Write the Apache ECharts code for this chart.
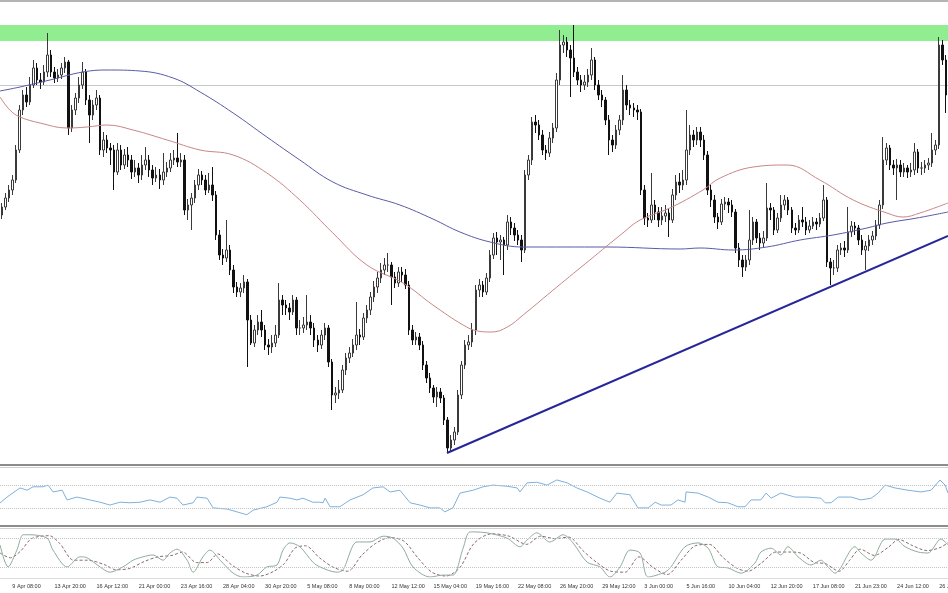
<!DOCTYPE html>
<html><head><meta charset="utf-8">
<script src="https://cdn.jsdelivr.net/npm/echarts@6/dist/echarts.min.js"></script>
<style>html,body{margin:0;padding:0;background:#fff}#c{width:948px;height:593px}</style>
</head><body><div id="c"></div>
<script>
const tickLabels = ["9 Apr 08:00","13 Apr 20:00","16 Apr 12:00","21 Apr 00:00","23 Apr 16:00","28 Apr 04:00","30 Apr 20:00","5 May 08:00","8 May 00:00","12 May 12:00","15 May 04:00","19 May 16:00","22 May 08:00","26 May 20:00","29 May 12:00","3 Jun 00:00","5 Jun 16:00","10 Jun 04:00","12 Jun 20:00","17 Jun 08:00","21 Jun 23:00","24 Jun 12:00","26 Jun 04:00"];

const opens = [
250,258,267,275,285,315,355,370,363,380,
397,385,383,393,410,393,387,390,397,403,
337,355,367,380,393,365,350,360,367,315,
325,317,315,293,315,300,310,305,293,297,
290,300,305,295,287,290,285,293,297,305,
307,303,305,255,260,267,280,290,285,275,
280,270,230,210,207,215,195,178,173,177,
183,145,122,135,143,135,120,118,122,130,
165,160,157,153,165,137,137,140,143,137,
125,120,130,137,103,70,72,75,95,107,
112,120,130,128,147,155,168,178,187,195,
200,200,188,182,193,190,180,135,125,128,
120,100,87,77,68,73,67,45,17,25,
33,70,100,120,123,135,175,180,173,187,
210,227,223,225,220,243,237,230,225,215,
290,305,343,340,330,315,312,327,337,385,
420,423,415,407,393,385,380,383,390,405,
380,370,365,345,325,320,335,345,375,360,
357,355,353,275,247,245,260,253,245,249,
252,245,270,283,280,285,315,330,325,333,
325,310,275,265,248,243,261,263,260,253,
217,205,198,205,225,243,227,222,227,257,
255,235,247,260,265,255,237,235,245,243,
235,239,243,241,247,265,203,197,197,215,
217,215,233,239,237,225,215,219,225,229,
240,260,305,317,300,297,300,293,297,293,
295,313,297,297,300,302,315,320,420,405];

const closes = [
258,267,275,285,315,355,370,363,380,397,
385,383,393,410,393,387,390,397,403,337,
355,367,380,393,365,350,360,367,315,325,
317,315,293,315,300,310,305,293,297,290,
300,305,295,287,290,285,293,297,305,307,
303,305,255,260,267,280,290,285,275,280,
270,230,210,207,215,195,178,173,177,183,
145,122,135,143,135,120,118,122,130,165,
160,157,153,165,137,137,140,143,137,125,
120,130,137,103,70,72,75,95,107,112,
120,130,128,147,155,168,178,187,195,200,
200,188,182,193,190,180,135,125,128,120,
100,87,77,68,73,67,45,17,25,33,
70,100,120,123,135,175,180,173,187,210,
227,223,225,220,243,237,230,225,215,290,
305,343,340,330,315,312,327,337,385,420,
423,415,407,393,385,380,383,390,405,380,
370,365,345,325,320,335,345,375,360,357,
355,353,275,247,245,260,253,245,249,252,
245,270,283,280,285,315,330,325,333,325,
310,275,265,248,243,261,263,260,253,217,
205,198,205,225,243,227,222,227,257,255,
235,247,260,265,255,237,235,245,243,235,
239,243,241,247,265,203,197,197,215,217,
215,233,239,237,225,215,219,225,229,240,
260,305,317,300,297,300,293,297,293,295,
313,297,297,300,302,315,320,420,405,370];

const lows = [
246,255,263,270,282,312,350,358,360,377,
380,376,380,388,388,382,383,386,392,330,
333,350,362,376,360,322,345,355,310,308,
312,300,275,290,295,296,298,286,288,282,
285,295,288,280,283,276,280,288,293,300,
298,298,250,245,235,262,275,280,270,272,
264,225,205,200,203,190,172,168,168,172,
98,120,118,130,128,115,110,112,118,127,
150,150,145,150,130,130,132,135,130,118,
113,116,125,98,55,62,66,72,90,102,
108,115,120,125,142,150,163,172,182,190,
193,160,177,178,183,176,130,120,120,115,
95,82,72,62,58,62,40,12,13,20,
30,66,96,115,118,130,168,168,170,183,
206,210,205,190,215,230,224,220,203,212,
285,300,332,325,310,305,308,322,333,380,
412,408,368,388,380,373,375,378,385,375,
365,358,340,310,313,316,330,340,355,350,
348,345,270,240,238,242,245,238,240,243,
228,242,265,272,275,280,310,318,320,318,
305,270,258,242,236,240,255,252,248,212,
198,188,194,200,220,222,215,218,224,245,
230,232,243,255,250,232,230,232,238,230,
232,236,235,238,244,198,180,190,193,210,
208,212,228,230,220,210,195,214,220,225,
236,256,300,295,290,265,288,288,287,288,
290,292,290,292,295,298,310,316,400,352];

const highs = [
262,272,280,290,320,360,375,378,388,405,
402,392,400,432,415,398,396,402,408,405,
360,372,388,403,396,370,365,375,370,333,
330,322,320,322,320,316,318,310,305,302,
310,318,310,300,298,296,312,303,312,315,
332,312,310,266,272,285,296,294,290,292,
298,274,235,216,245,220,200,183,182,190,
186,150,140,150,155,140,126,130,140,182,
170,165,162,170,168,145,148,170,150,142,
130,135,142,140,106,78,85,100,112,118,
126,163,136,152,160,173,184,193,202,207,
212,203,193,198,198,196,184,140,133,132,
124,104,92,80,78,77,70,48,30,38,
75,104,125,130,142,180,186,184,192,215,
232,233,230,228,250,248,242,235,230,295,
310,348,350,345,335,320,333,342,392,435,
430,428,420,440,398,390,390,396,417,408,
385,375,368,350,330,340,350,390,380,365,
362,360,356,280,252,292,265,258,258,260,
256,276,290,292,295,355,340,335,338,338,
330,314,280,270,252,266,268,267,265,256,
222,210,210,255,248,246,232,234,282,262,
258,252,270,270,268,258,242,250,258,248,
245,248,247,252,280,268,207,205,220,222,
224,258,244,243,240,230,224,230,234,245,
265,328,322,320,305,306,305,302,300,302,
322,316,303,305,307,332,325,428,425,410];

// moving averages [bar position, price]
const maSlow = [[0,374],[5.7,378],[14.2,385],[23.6,393],[30.5,395],[39.9,394],[49.3,387],[57,373],[66.4,352],[76,328],[85.4,305],[94.8,283],[104.5,270],[113.9,260],[123.3,246],[131,233],[139.6,223],[149,218],[172.9,218],[193.7,216],[199.4,217],[208.8,215],[218.4,218],[227.9,225],[237.3,230],[246.9,237],[252.6,242],[261.2,247],[270,253]];
const maFast = [[0,368],[2.8,355],[5.7,348],[11.4,342],[19.1,337],[24.8,338],[30.5,340],[37.9,335],[47.6,325],[57,315],[66.4,310],[76,292],[85.4,265],[94.8,232],[104.5,200],[114.8,182],[123.3,160],[131.9,140],[136,134],[140,133],[144.5,138],[149,150],[158.6,178],[168,205],[177.4,232],[182.3,245],[190.8,257],[200.2,275],[205.1,287],[214.5,298],[224.2,300],[233.5,285],[243,265],[252.6,252],[257.2,248],[262,252],[270,262]];
const trendLine = [[127.3,12],[270,229]];
const resistanceZone = [424,440];
const hLevel = 380;

const rsi = [[0,38.6],[2,49],[5.7,65],[7.7,61],[9.4,67],[12.2,67],[13.7,70],[15.1,58],[17.7,61],[19.1,44],[21.9,49],[25.6,44],[28.5,40],[31.3,35],[34.2,40],[37,39],[39.9,40],[42.7,44],[45.6,40],[48.4,49],[50.4,47],[52.1,35],[55,39],[56.1,49],[59,47],[60.7,30],[64.7,28],[67.5,23],[70.3,18],[72.1,26],[76,32],[78.9,40],[79.7,49],[82.6,47],[84.6,44],[86.3,47],[89.1,40],[91.1,40],[92,39],[92.6,47],[94,32],[96.8,32],[99.7,44],[103.4,53],[106.2,65],[109.1,67],[111.1,58],[113.9,61],[116.8,39],[119.6,35],[122.5,30],[125.3,30],[126.7,23],[129,30],[131,56],[134.7,61],[137.6,67],[140.4,70],[144.4,68],[147.3,65],[148.1,58],[150.1,74],[152.9,75],[155.8,70],[158.6,79],[161.5,74],[164.3,65],[167.2,58],[170.9,47],[173.7,40],[175.7,56],[179.4,53],[181.7,30],[184.6,30],[186.6,40],[188.3,35],[191.1,35],[193.1,44],[195.1,40],[195.4,58],[198.8,56],[201.7,49],[204.5,40],[207.3,39],[210.2,32],[212.2,32],[213.9,44],[216.7,44],[218.2,56],[219.6,47],[222.4,56],[226.4,49],[230.1,49],[233.8,47],[235,39],[236.7,39],[238.7,49],[242.4,49],[245.2,44],[248.1,47],[250.1,56],[252.1,70],[254.9,65],[258.6,61],[262.3,58],[265.2,61],[267.7,79],[269.2,70],[270,56]];
const rsiLevels = [70,30];

const stochMain = [[0,67],[2.3,21],[4.8,56],[6.6,88],[8.5,88],[13.4,81],[15.1,56],[19.1,21],[22.8,42],[24.8,40],[28.5,21],[31.3,10],[35,21],[37.9,35],[40.7,42],[43.6,46],[46.4,35],[48.4,50],[50.4,58],[53.3,35],[55,10],[57.8,42],[59.8,56],[62.7,35],[66.4,8],[69.2,0],[73.2,4],[76,21],[78.9,25],[80.6,56],[82.6,71],[85.4,63],[89.1,31],[91.1,21],[96,10],[97.7,15],[101.7,73],[105.4,73],[109.1,85],[111.9,81],[114.8,60],[117.6,21],[122.5,0],[126.2,4],[129,4],[131.9,60],[133.9,94],[138.7,92],[144.4,81],[148.1,63],[150.1,77],[152.9,92],[156.6,73],[160.4,88],[163.2,71],[167.2,31],[170.9,21],[173.7,0],[176.6,21],[179.4,56],[182.3,50],[184.6,0],[189.4,10],[191.1,21],[195.1,63],[198.8,71],[201.7,60],[204.5,21],[207.3,19],[211.1,8],[215,29],[216.7,52],[219.6,60],[222.4,46],[224.4,63],[227.3,42],[231,25],[233.8,35],[235.8,21],[237.8,8],[243.5,63],[245.2,50],[248.1,35],[252.1,79],[254.9,79],[257.8,63],[261.5,52],[264.3,50],[268,79],[270,67]];
const stochSignal = [[0,50],[3,40],[6,55],[9,80],[14,86],[17,70],[21,35],[25,35],[30,25],[33,15],[37,18],[41,32],[45,42],[49,45],[52,52],[56,30],[59,30],[62,48],[66,25],[70,8],[74,2],[78,12],[81,28],[84,60],[87,65],[91,40],[95,20],[99,12],[103,45],[107,70],[111,82],[115,75],[119,40],[123,10],[127,2],[131,20],[135,70],[140,90],[145,85],[150,68],[154,85],[158,80],[162,83],[166,55],[170,30],[174,12],[178,10],[182,42],[186,20],[190,5],[194,35],[198,65],[202,68],[206,40],[210,18],[213,12],[217,30],[221,52],[225,52],[228,50],[232,30],[235,28],[239,12],[242,35],[245,58],[249,45],[253,62],[256,78],[260,65],[264,55],[268,62],[270,72]];
const stochLevels = [80,20];

const N = opens.length;
const cats = opens.map((_, i) => String(i));
const candles = opens.map((o, i) => [o, closes[i], lows[i], highs[i]]);
const dotted = (vals) => ({silent:true, symbol:'none', label:{show:false}, lineStyle:{color:'#c4c4c4', type:'dotted', width:1}, data: vals.map(v => ({yAxis:v}))});

const chart = echarts.init(document.getElementById('c'), null, {renderer:'canvas'});
chart.setOption({
  animation:false,
  backgroundColor:'#ffffff',
  grid:[
    {left:0,right:0,top:0,height:465,containLabel:false,outerBoundsMode:'none'},
    {left:0,right:0,top:468,height:57,containLabel:false,outerBoundsMode:'none'},
    {left:0,right:0,top:529,height:48,containLabel:false,outerBoundsMode:'none'}
  ],
  xAxis:[
    {type:'category',gridIndex:0,data:cats,show:false},
    {type:'value',gridIndex:0,min:0,max:N,show:false},
    {type:'value',gridIndex:1,min:0,max:N,show:false},
    {type:'category',gridIndex:2,data:cats,axisLine:{show:false},axisTick:{show:false},splitLine:{show:false},
      axisLabel:{interval:0,align:'left',margin:6,fontSize:5.5,color:'#333',fontFamily:'Liberation Sans',hideOverlap:false,
        formatter:(v, idx) => (idx % 12 === 3 ? tickLabels[(idx - 3) / 12] : '')}},
    {type:'value',gridIndex:2,min:0,max:N,show:false}
  ],
  yAxis:[
    {type:'value',gridIndex:0,min:0,max:465,show:false},
    {type:'value',gridIndex:1,min:0,max:100,show:false},
    {type:'value',gridIndex:2,min:0,max:100,show:false}
  ],
  graphic:[
    {type:'rect',shape:{x:0,y:0,width:948,height:2},style:{fill:'#b4b4b4'},silent:true},
    {type:'rect',shape:{x:0,y:464,width:948,height:2},style:{fill:'#8c8c8c'},silent:true},
    {type:'rect',shape:{x:0,y:467,width:948,height:1},style:{fill:'#d0d0d0'},silent:true},
    {type:'rect',shape:{x:0,y:525,width:948,height:2},style:{fill:'#8c8c8c'},silent:true},
    {type:'rect',shape:{x:0,y:528,width:948,height:1},style:{fill:'#d0d0d0'},silent:true},
    {type:'rect',shape:{x:0,y:578,width:948,height:1},style:{fill:'#dcdcdc'},silent:true}
  ],
  series:[
    {type:'candlestick',xAxisIndex:0,yAxisIndex:0,data:candles,barWidth:2,z:2,
      itemStyle:{color:'#ffffff',color0:'#111111',borderColor:'#3a3a3a',borderColor0:'#111111',borderWidth:1},
      markArea:{silent:true,z:1,itemStyle:{color:'#90ee90'},data:[[{yAxis:resistanceZone[0]},{yAxis:resistanceZone[1]}]]},
      markLine:{silent:true,z:1,symbol:'none',label:{show:false},lineStyle:{color:'#c8c8c8',type:'solid',width:1},data:[{yAxis:hLevel}]}
    },
    {type:'line',xAxisIndex:1,yAxisIndex:0,data:maSlow,showSymbol:false,smooth:0.4,z:3,lineStyle:{color:'#5a5aa6',width:1}},
    {type:'line',xAxisIndex:1,yAxisIndex:0,data:maFast,showSymbol:false,smooth:0.4,z:3,lineStyle:{color:'#c98686',width:1}},
    {type:'line',xAxisIndex:1,yAxisIndex:0,data:trendLine,showSymbol:false,z:4,lineStyle:{color:'#26269a',width:2}},
    {type:'line',xAxisIndex:2,yAxisIndex:1,data:rsi,showSymbol:false,lineStyle:{color:'#7fb0da',width:1},markLine:dotted(rsiLevels)},
    {type:'line',xAxisIndex:4,yAxisIndex:2,data:stochSignal,showSymbol:false,smooth:0.3,lineStyle:{color:'#8a6a6a',width:1,type:[3,2]},markLine:dotted(stochLevels)},
    {type:'line',xAxisIndex:4,yAxisIndex:2,data:stochMain,showSymbol:false,smooth:0.3,lineStyle:{color:'#8fab9e',width:1}}
  ]
});
</script></body></html>
